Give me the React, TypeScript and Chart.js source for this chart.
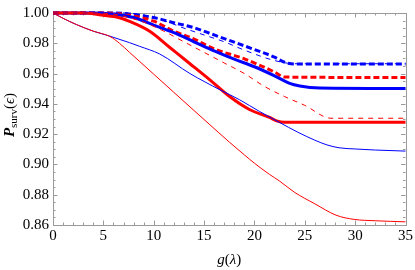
import React, { useEffect, useRef } from "react";
import { Chart, registerables } from "chart.js";

Chart.register(...registerables);

// ---- Data ----
const xTickValues = [0, 5, 10, 15, 20, 25, 30, 35];
const yTickValues = [0.86, 0.88, 0.9, 0.92, 0.94, 0.96, 0.98, 1.0];

const thinRedG = [0, 1, 2.35, 4, 5.65, 6.6, 7.6, 8.6, 10, 12, 14, 16.4, 17.5, 19, 20, 21.5, 22.5, 24, 26, 28.1, 29.9, 32, 35];
const thinRedP = [1, 0.9965, 0.9923, 0.988, 0.9845, 0.98, 0.974, 0.968, 0.9596, 0.9476, 0.9356, 0.9213, 0.9148, 0.9063, 0.9008, 0.8934, 0.889, 0.8815, 0.874, 0.8665, 0.8637, 0.8628, 0.8621];

const thinBlueG = [0, 1, 2.35, 4, 5.65, 7.6, 8.6, 10.6, 13.6, 16.6, 18.5, 20.5, 22.5, 24.3, 26, 27.2, 28.4, 30, 32, 35];
const thinBlueP = [1, 0.9965, 0.9923, 0.988, 0.9847, 0.9804, 0.978, 0.9729, 0.96, 0.9492, 0.9428, 0.935, 0.9277, 0.9213, 0.916, 0.9129, 0.911, 0.9102, 0.9095, 0.9088];

const thickRedG = [0, 3, 5, 6.5, 7.6, 9.6, 11.6, 13.6, 15.6, 17.5, 19.5, 21.5, 22.2, 23, 35];
const thickRedP = [1, 1, 0.9985, 0.997, 0.9944, 0.9879, 0.9772, 0.9665, 0.9557, 0.945, 0.9363, 0.931, 0.9288, 0.9278, 0.9278];

const thickBlueG = [0, 4, 6, 8, 10, 12, 14, 16, 18, 20, 22, 23.5, 24.5, 26.5, 35];
const thickBlueP = [1, 1, 0.9992, 0.997, 0.992, 0.987, 0.981, 0.975, 0.9695, 0.9645, 0.9585, 0.9535, 0.9518, 0.9505, 0.9502];

const thickBlueDashG = [0, 6, 8, 10, 12, 14, 16, 19, 22, 23, 24, 35];
const thickBlueDashP = [1, 1, 0.999, 0.997, 0.9936, 0.9903, 0.9855, 0.9783, 0.9708, 0.9675, 0.9663, 0.9663];

const thinBlueDashG = [0, 7, 9, 11, 13, 15, 17, 19, 22, 24, 35];
const thinBlueDashP = [1, 1, 0.9985, 0.995, 0.99, 0.9855, 0.981, 0.9755, 0.9686, 0.9665, 0.9665];

const thickRedDashG = [0, 5, 7, 8, 10, 12, 14, 16, 19, 22, 23, 35];
const thickRedDashP = [1, 1, 0.9992, 0.998, 0.9946, 0.988, 0.9828, 0.9763, 0.9697, 0.961, 0.9577, 0.9574];

const thinRedDashG = [0, 4, 6, 7.5, 9, 11, 13, 15, 17, 19, 21, 23, 25, 27.6, 35];
const thinRedDashP = [1, 1, 0.9993, 0.997, 0.994, 0.988, 0.981, 0.974, 0.967, 0.96, 0.9515, 0.9448, 0.939, 0.9305, 0.9305];

const RED = "rgb(255,0,0)";
const BLUE = "rgb(0,0,255)";
const FRAME = "#9a9a9a";
const SERIF = "'Liberation Serif', 'DejaVu Serif', serif";

const pts = (g: number[], p: number[]) => g.map((x, i) => ({ x, y: p[i] }));

const framePlugin = {
  id: "frameTicks",
  beforeDatasetsDraw(chart: any) {
    const { ctx, chartArea: a, scales } = chart;
    const xs = scales.x;
    const ys = scales.y;
    ctx.save();
    ctx.strokeStyle = FRAME;
    ctx.lineWidth = 1;
    ctx.strokeRect(Math.round(a.left) + 0.5, Math.round(a.top) + 0.5, Math.round(a.right - a.left), Math.round(a.bottom - a.top));
    ctx.beginPath();
    // x ticks (major 5, minor 1)
    for (let v = xs.min; v <= xs.max + 1e-9; v += 1) {
      const px = Math.round(xs.getPixelForValue(v)) + 0.5;
      const major = Math.abs(v % 5) < 1e-9;
      const L = major ? 4.5 : 2.5;
      ctx.moveTo(px, a.bottom);
      ctx.lineTo(px, a.bottom - L);
      ctx.moveTo(px, a.top);
      ctx.lineTo(px, a.top + L);
    }
    // y ticks (major 0.02, minor 0.005)
    for (let k = 0; k <= Math.round((ys.max - ys.min) / 0.005); k++) {
      const v = ys.min + k * 0.005;
      const py = Math.round(ys.getPixelForValue(v)) + 0.5;
      const major = k % 4 === 0;
      const L = major ? 4.5 : 2.5;
      ctx.moveTo(a.left, py);
      ctx.lineTo(a.left + L, py);
      ctx.moveTo(a.right, py);
      ctx.lineTo(a.right - L, py);
    }
    ctx.stroke();
    ctx.restore();
  },
  afterDraw(chart: any) {
    const { ctx, chartArea: a } = chart;
    ctx.save();
    ctx.fillStyle = "#000";
    ctx.textBaseline = "alphabetic";
    ctx.textAlign = "left";
    // x title: g(λ)
    const xParts: [string, string][] = [
      ["g", `italic 15px ${SERIF}`],
      ["(", `15px ${SERIF}`],
      ["λ", `italic 15px ${SERIF}`],
      [")", `15px ${SERIF}`],
    ];
    let w = 0;
    for (const [t, f] of xParts) { ctx.font = f; w += ctx.measureText(t).width; }
    let x = (a.left + a.right) / 2 - w / 2;
    for (const [t, f] of xParts) { ctx.font = f; ctx.fillText(t, x, 264); x += ctx.measureText(t).width; }

    // y title: P_surv(ϵ)
    const yParts: [string, string, number][] = [
      ["P", `bold italic 15px ${SERIF}`, 0],
      ["surv", `11px ${SERIF}`, 3],
      ["(", `15px ${SERIF}`, 0],
      ["ϵ", `italic 15px ${SERIF}`, 0],
      [")", `15px ${SERIF}`, 0],
    ];
    let wy = 0;
    for (const [t, f] of yParts) { ctx.font = f; wy += ctx.measureText(t).width; }
    ctx.translate(13.5, (a.top + a.bottom) / 2 - 4);
    ctx.rotate(-Math.PI / 2);
    let yx = -wy / 2;
    for (const [t, f, d] of yParts) { ctx.font = f; ctx.fillText(t, yx, d); yx += ctx.measureText(t).width; }
    ctx.restore();
  },
};

export default function App() {
  const ref = useRef<HTMLCanvasElement>(null);
  useEffect(() => {
    const thin = { borderWidth: 1, pointRadius: 0, fill: false, cubicInterpolationMode: "monotone" as const, clip: false as any };
    const thick = { borderWidth: 3, pointRadius: 0, fill: false, cubicInterpolationMode: "monotone" as const, clip: false as any };
    const chart = new Chart(ref.current!, {
      type: "line",
      data: {
        datasets: [
          { ...thin, data: pts(thinRedG, thinRedP), borderColor: RED },
          { ...thin, data: pts(thinBlueG, thinBlueP), borderColor: BLUE },
          { ...thin, data: pts(thinRedDashG, thinRedDashP), borderColor: RED, borderDash: [5, 5] },
          { ...thin, data: pts(thinBlueDashG, thinBlueDashP), borderColor: BLUE, borderDash: [5, 5] },
          { ...thick, data: pts(thickRedG, thickRedP), borderColor: RED },
          { ...thick, data: pts(thickBlueG, thickBlueP), borderColor: BLUE },
          { ...thick, data: pts(thickRedDashG, thickRedDashP), borderColor: RED, borderDash: [6, 3] },
          { ...thick, data: pts(thickBlueDashG, thickBlueDashP), borderColor: BLUE, borderDash: [6, 3] },
        ],
      },
      options: {
        animation: false,
        responsive: false,
        maintainAspectRatio: false,
        layout: { padding: { top: 8, right: 9, left: 0, bottom: 0 } },
        plugins: { legend: { display: false }, tooltip: { enabled: false }, title: { display: false } },
        scales: {
          x: {
            type: "linear",
            min: 0,
            max: 35,
            afterBuildTicks: (s: any) => { s.ticks = xTickValues.map((v) => ({ value: v })); },
            afterFit: (s: any) => { s.height = 45; },
            ticks: { color: "#000", font: { family: SERIF, size: 15 }, padding: 2, maxRotation: 0, autoSkip: false },
            grid: { display: false, drawTicks: false },
            border: { display: false },
          },
          y: {
            type: "linear",
            min: 0.86,
            max: 1.0,
            afterBuildTicks: (s: any) => { s.ticks = yTickValues.map((v) => ({ value: v })); },
            afterFit: (s: any) => { s.width = 53; },
            ticks: { color: "#000", font: { family: SERIF, size: 15 }, padding: 4, autoSkip: false, callback: (v: any) => Number(v).toFixed(2) },
            grid: { display: false, drawTicks: false },
            border: { display: false },
          },
        },
      },
      plugins: [framePlugin],
    });
    return () => chart.destroy();
  }, []);
  return (
    <div style={{ position: "absolute", left: 0, top: 0, width: 415, height: 270, background: "#fff" }}>
      <canvas ref={ref} width={415} height={270} style={{ width: 415, height: 270, display: "block" }} />
    </div>
  );
}
